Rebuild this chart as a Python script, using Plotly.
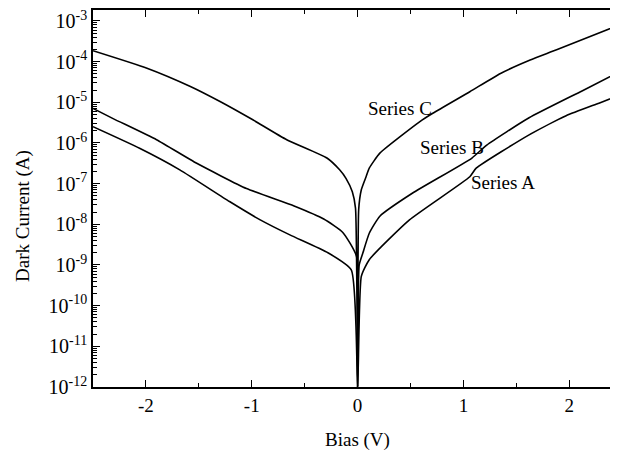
import plotly.graph_objects as go

# bias (V) and log10 of dark current (A)
bias_c = [-2.5, -1.99, -1.58, -1.30, -0.99, -0.67, -0.29, -0.17, -0.11, -0.05, -0.02, 0.0,
          0.01, 0.035, 0.08, 0.11, 0.21, 0.585, 0.71, 1.06, 1.35, 1.63, 1.88, 2.46]
logi_c = [-3.73, -4.16, -4.61, -4.98, -5.43, -5.92, -6.37, -6.66, -6.87, -7.2, -7.6, -12,
          -7.64, -7.15, -6.83, -6.62, -6.25, -5.48, -5.27, -4.74, -4.29, -3.96, -3.71, -3.11]

bias_b = [-2.5, -2.31, -1.90, -1.52, -1.05, -0.60, -0.32, -0.14, -0.01, 0.0,
          0.015, 0.05, 0.11, 0.21, 0.52, 1.08, 1.22, 1.62, 2.12, 2.46]
logi_b = [-5.15, -5.40, -5.92, -6.50, -7.12, -7.55, -7.87, -8.2, -8.79, -12,
          -9.0, -8.70, -8.22, -7.8, -7.23, -6.37, -6.05, -5.38, -4.72, -4.27]

bias_a = [-2.5, -2.06, -1.68, -1.21, -0.92, -0.64, -0.28, -0.06, 0.0,
          0.035, 0.11, 0.49, 1.06, 1.12, 1.62, 1.97, 2.28, 2.46]
logi_a = [-5.60, -6.13, -6.66, -7.44, -7.89, -8.26, -8.7, -9.12, -12,
          -9.28, -8.87, -7.89, -6.83, -6.62, -5.80, -5.33, -5.02, -4.84]

series = [("Series A", bias_a, logi_a), ("Series B", bias_b, logi_b), ("Series C", bias_c, logi_c)]

# label positions (bias, log10 current)
labels = {"Series C": (0.40, -5.14), "Series B": (0.89, -6.10), "Series A": (1.37, -6.96)}

y_exps = list(range(-3, -13, -1))
x_major = [-2, -1, 0, 1, 2]
x_minor = [-1.5, -0.5, 0.5, 1.5]

font = "Liberation Serif, Times New Roman, serif"
y_range = [-12, -2.73]

fig = go.Figure()
for name, xs, ls in series:
    fig.add_trace(go.Scatter(x=xs, y=[10 ** v for v in ls], mode="lines", name=name,
                             line=dict(color="black", width=1.6, shape="spline", smoothing=0.5)))

for name, (lx, ly) in labels.items():
    fig.add_annotation(x=lx, y=ly, xref="x", yref="y", text=name, showarrow=False,
                       font=dict(size=19, color="black", family=font))

# axis titles as annotations so they sit where the scan has them
fig.add_annotation(x=0, y=-0.14, xref="x", yref="paper", text="Bias (V)", showarrow=False,
                   font=dict(size=19), yanchor="middle")
fig.add_annotation(x=-0.133, y=0.454, xref="paper", yref="paper", text="Dark Current (A)",
                   showarrow=False, textangle=-90, font=dict(size=19),
                   xanchor="center", yanchor="middle")

# the page body adds an 8px offset, so the figure is 8px smaller than the window
fig.update_layout(
    width=610, height=443,
    margin=dict(l=85, r=0, t=2, b=64),
    paper_bgcolor="white", plot_bgcolor="white",
    showlegend=False,
    font=dict(family=font, size=19, color="black"),
    yaxis2=dict(type="log", range=y_range, overlaying="y", side="right",
                showline=False, showgrid=False, zeroline=False, showticklabels=False,
                ticks="inside", ticklen=3, tickcolor="black",
                tickvals=[10 ** e for e in y_exps]),
)
fig.update_xaxes(
    range=[-2.5, 2.46], showgrid=False, zeroline=False, automargin=False,
    showline=True, linecolor="black", linewidth=1.5, mirror="ticks",
    ticks="inside", ticklen=7, tickcolor="black", tickwidth=1.2,
    tickvals=x_major, ticktext=[str(v) for v in x_major],
    minor=dict(tickvals=x_minor, ticks="inside", ticklen=4, tickcolor="black"),
)
fig.update_yaxes(
    selector=dict(overlaying=None),
    type="log", range=y_range, showgrid=False, zeroline=False, automargin=False,
    showline=True, linecolor="black", linewidth=1.5,
    ticks="inside", ticklen=7, tickcolor="black", tickwidth=1.2,
    tickvals=[10 ** e for e in y_exps],
    ticktext=["10<sup>%d</sup>" % e for e in y_exps],
    tickfont=dict(size=20),
    ticklabelstandoff=0, ticklabeloverflow="allow",
    minor=dict(tickvals=[k * 10 ** e for e in range(-12, -2) for k in range(2, 10)],
               ticks="inside", ticklen=4, tickcolor="black"),
)
# dummy trace so the right-hand tick axis is drawn
fig.add_trace(go.Scatter(x=[None], y=[None], yaxis="y2", showlegend=False, hoverinfo="skip"))

fig.write_html("out.html")
